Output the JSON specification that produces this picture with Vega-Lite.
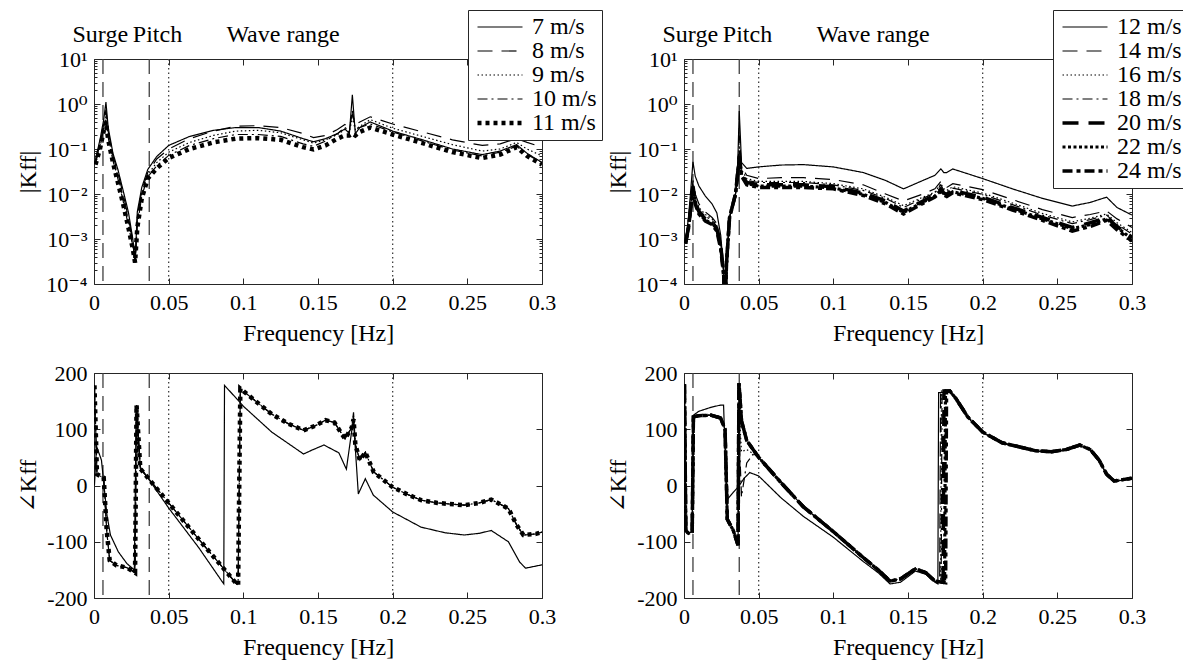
{
"$schema": "https://vega.github.io/schema/vega-lite/v6.json",
"padding": {"left": 15, "top": 9, "right": 2, "bottom": 2},
"background": "white",
"datasets": {
"tl": [
{"s":"7 m/s","f":0.001,"v":0.06},{"s":"7 m/s","f":0.004,"v":0.16},{"s":"7 m/s","f":0.0065,"v":0.45},{"s":"7 m/s","f":0.008,"v":1.1},{"s":"7 m/s","f":0.0095,"v":0.3},{"s":"7 m/s","f":0.0127,"v":0.08},{"s":"7 m/s","f":0.016,"v":0.035},{"s":"7 m/s","f":0.0195,"v":0.012},{"s":"7 m/s","f":0.023,"v":0.004},{"s":"7 m/s","f":0.026,"v":0.001},{"s":"7 m/s","f":0.0275,"v":0.0003},{"s":"7 m/s","f":0.029,"v":0.004},{"s":"7 m/s","f":0.032,"v":0.014},{"s":"7 m/s","f":0.036,"v":0.035},{"s":"7 m/s","f":0.042,"v":0.068},{"s":"7 m/s","f":0.05,"v":0.12},{"s":"7 m/s","f":0.064,"v":0.19},{"s":"7 m/s","f":0.08,"v":0.26},{"s":"7 m/s","f":0.095,"v":0.3},{"s":"7 m/s","f":0.11,"v":0.3},{"s":"7 m/s","f":0.125,"v":0.25},{"s":"7 m/s","f":0.14,"v":0.17},{"s":"7 m/s","f":0.147,"v":0.145},{"s":"7 m/s","f":0.155,"v":0.17},{"s":"7 m/s","f":0.163,"v":0.22},{"s":"7 m/s","f":0.168,"v":0.28},{"s":"7 m/s","f":0.171,"v":0.22},{"s":"7 m/s","f":0.173,"v":1.6},{"s":"7 m/s","f":0.175,"v":0.22},{"s":"7 m/s","f":0.178,"v":0.3},{"s":"7 m/s","f":0.185,"v":0.4},{"s":"7 m/s","f":0.2,"v":0.25},{"s":"7 m/s","f":0.22,"v":0.16},{"s":"7 m/s","f":0.24,"v":0.1},{"s":"7 m/s","f":0.26,"v":0.075},{"s":"7 m/s","f":0.272,"v":0.09},{"s":"7 m/s","f":0.283,"v":0.125},{"s":"7 m/s","f":0.29,"v":0.08},{"s":"7 m/s","f":0.3,"v":0.05},
{"s":"8 m/s","f":0.001,"v":0.05},{"s":"8 m/s","f":0.004,"v":0.13},{"s":"8 m/s","f":0.0065,"v":0.35},{"s":"8 m/s","f":0.008,"v":0.75},{"s":"8 m/s","f":0.0095,"v":0.25},{"s":"8 m/s","f":0.0127,"v":0.07},{"s":"8 m/s","f":0.016,"v":0.03},{"s":"8 m/s","f":0.0195,"v":0.01},{"s":"8 m/s","f":0.023,"v":0.003},{"s":"8 m/s","f":0.026,"v":0.0009},{"s":"8 m/s","f":0.0275,"v":0.0003},{"s":"8 m/s","f":0.029,"v":0.003},{"s":"8 m/s","f":0.032,"v":0.012},{"s":"8 m/s","f":0.036,"v":0.03},{"s":"8 m/s","f":0.042,"v":0.06},{"s":"8 m/s","f":0.05,"v":0.1},{"s":"8 m/s","f":0.064,"v":0.17},{"s":"8 m/s","f":0.08,"v":0.25},{"s":"8 m/s","f":0.095,"v":0.32},{"s":"8 m/s","f":0.11,"v":0.33},{"s":"8 m/s","f":0.125,"v":0.3},{"s":"8 m/s","f":0.14,"v":0.22},{"s":"8 m/s","f":0.147,"v":0.18},{"s":"8 m/s","f":0.155,"v":0.2},{"s":"8 m/s","f":0.163,"v":0.27},{"s":"8 m/s","f":0.168,"v":0.35},{"s":"8 m/s","f":0.171,"v":0.3},{"s":"8 m/s","f":0.173,"v":0.6},{"s":"8 m/s","f":0.175,"v":0.35},{"s":"8 m/s","f":0.178,"v":0.4},{"s":"8 m/s","f":0.185,"v":0.52},{"s":"8 m/s","f":0.2,"v":0.36},{"s":"8 m/s","f":0.22,"v":0.24},{"s":"8 m/s","f":0.24,"v":0.16},{"s":"8 m/s","f":0.26,"v":0.12},{"s":"8 m/s","f":0.272,"v":0.13},{"s":"8 m/s","f":0.283,"v":0.17},{"s":"8 m/s","f":0.29,"v":0.14},{"s":"8 m/s","f":0.3,"v":0.11},
{"s":"9 m/s","f":0.001,"v":0.055},{"s":"9 m/s","f":0.004,"v":0.12},{"s":"9 m/s","f":0.0065,"v":0.3},{"s":"9 m/s","f":0.008,"v":0.55},{"s":"9 m/s","f":0.0095,"v":0.2},{"s":"9 m/s","f":0.0127,"v":0.06},{"s":"9 m/s","f":0.016,"v":0.025},{"s":"9 m/s","f":0.0195,"v":0.008},{"s":"9 m/s","f":0.023,"v":0.0025},{"s":"9 m/s","f":0.026,"v":0.0008},{"s":"9 m/s","f":0.0275,"v":0.0003},{"s":"9 m/s","f":0.029,"v":0.0025},{"s":"9 m/s","f":0.032,"v":0.01},{"s":"9 m/s","f":0.036,"v":0.027},{"s":"9 m/s","f":0.042,"v":0.05},{"s":"9 m/s","f":0.05,"v":0.085},{"s":"9 m/s","f":0.064,"v":0.14},{"s":"9 m/s","f":0.08,"v":0.2},{"s":"9 m/s","f":0.095,"v":0.25},{"s":"9 m/s","f":0.11,"v":0.26},{"s":"9 m/s","f":0.125,"v":0.23},{"s":"9 m/s","f":0.14,"v":0.16},{"s":"9 m/s","f":0.147,"v":0.135},{"s":"9 m/s","f":0.155,"v":0.16},{"s":"9 m/s","f":0.163,"v":0.21},{"s":"9 m/s","f":0.168,"v":0.27},{"s":"9 m/s","f":0.171,"v":0.24},{"s":"9 m/s","f":0.173,"v":0.5},{"s":"9 m/s","f":0.175,"v":0.27},{"s":"9 m/s","f":0.178,"v":0.32},{"s":"9 m/s","f":0.185,"v":0.45},{"s":"9 m/s","f":0.2,"v":0.29},{"s":"9 m/s","f":0.22,"v":0.19},{"s":"9 m/s","f":0.24,"v":0.125},{"s":"9 m/s","f":0.26,"v":0.09},{"s":"9 m/s","f":0.272,"v":0.1},{"s":"9 m/s","f":0.283,"v":0.14},{"s":"9 m/s","f":0.29,"v":0.1},{"s":"9 m/s","f":0.3,"v":0.07},
{"s":"10 m/s","f":0.001,"v":0.05},{"s":"10 m/s","f":0.004,"v":0.11},{"s":"10 m/s","f":0.0065,"v":0.28},{"s":"10 m/s","f":0.008,"v":0.45},{"s":"10 m/s","f":0.0095,"v":0.18},{"s":"10 m/s","f":0.0127,"v":0.055},{"s":"10 m/s","f":0.016,"v":0.022},{"s":"10 m/s","f":0.0195,"v":0.007},{"s":"10 m/s","f":0.023,"v":0.002},{"s":"10 m/s","f":0.026,"v":0.0007},{"s":"10 m/s","f":0.0275,"v":0.0003},{"s":"10 m/s","f":0.029,"v":0.002},{"s":"10 m/s","f":0.032,"v":0.009},{"s":"10 m/s","f":0.036,"v":0.024},{"s":"10 m/s","f":0.042,"v":0.042},{"s":"10 m/s","f":0.05,"v":0.072},{"s":"10 m/s","f":0.064,"v":0.12},{"s":"10 m/s","f":0.08,"v":0.17},{"s":"10 m/s","f":0.095,"v":0.21},{"s":"10 m/s","f":0.11,"v":0.21},{"s":"10 m/s","f":0.125,"v":0.19},{"s":"10 m/s","f":0.14,"v":0.13},{"s":"10 m/s","f":0.147,"v":0.115},{"s":"10 m/s","f":0.155,"v":0.15},{"s":"10 m/s","f":0.163,"v":0.22},{"s":"10 m/s","f":0.168,"v":0.3},{"s":"10 m/s","f":0.171,"v":0.25},{"s":"10 m/s","f":0.173,"v":0.7},{"s":"10 m/s","f":0.175,"v":0.28},{"s":"10 m/s","f":0.178,"v":0.3},{"s":"10 m/s","f":0.185,"v":0.36},{"s":"10 m/s","f":0.2,"v":0.24},{"s":"10 m/s","f":0.22,"v":0.15},{"s":"10 m/s","f":0.24,"v":0.095},{"s":"10 m/s","f":0.26,"v":0.07},{"s":"10 m/s","f":0.272,"v":0.085},{"s":"10 m/s","f":0.283,"v":0.115},{"s":"10 m/s","f":0.29,"v":0.075},{"s":"10 m/s","f":0.3,"v":0.05},
{"s":"11 m/s","f":0.001,"v":0.045},{"s":"11 m/s","f":0.004,"v":0.1},{"s":"11 m/s","f":0.0065,"v":0.25},{"s":"11 m/s","f":0.008,"v":0.4},{"s":"11 m/s","f":0.0095,"v":0.16},{"s":"11 m/s","f":0.0127,"v":0.05},{"s":"11 m/s","f":0.016,"v":0.018},{"s":"11 m/s","f":0.0195,"v":0.006},{"s":"11 m/s","f":0.023,"v":0.0018},{"s":"11 m/s","f":0.026,"v":0.0006},{"s":"11 m/s","f":0.0275,"v":0.0003},{"s":"11 m/s","f":0.029,"v":0.0018},{"s":"11 m/s","f":0.032,"v":0.008},{"s":"11 m/s","f":0.036,"v":0.022},{"s":"11 m/s","f":0.042,"v":0.037},{"s":"11 m/s","f":0.05,"v":0.063},{"s":"11 m/s","f":0.064,"v":0.1},{"s":"11 m/s","f":0.08,"v":0.14},{"s":"11 m/s","f":0.095,"v":0.17},{"s":"11 m/s","f":0.11,"v":0.175},{"s":"11 m/s","f":0.125,"v":0.16},{"s":"11 m/s","f":0.14,"v":0.11},{"s":"11 m/s","f":0.147,"v":0.098},{"s":"11 m/s","f":0.155,"v":0.12},{"s":"11 m/s","f":0.163,"v":0.17},{"s":"11 m/s","f":0.168,"v":0.2},{"s":"11 m/s","f":0.171,"v":0.2},{"s":"11 m/s","f":0.173,"v":0.22},{"s":"11 m/s","f":0.175,"v":0.2},{"s":"11 m/s","f":0.178,"v":0.24},{"s":"11 m/s","f":0.185,"v":0.3},{"s":"11 m/s","f":0.2,"v":0.21},{"s":"11 m/s","f":0.22,"v":0.135},{"s":"11 m/s","f":0.24,"v":0.085},{"s":"11 m/s","f":0.26,"v":0.063},{"s":"11 m/s","f":0.272,"v":0.075},{"s":"11 m/s","f":0.283,"v":0.11},{"s":"11 m/s","f":0.29,"v":0.07},{"s":"11 m/s","f":0.3,"v":0.045}
],
"tr": [
{"s":"12 m/s","f":0.001,"v":0.0009},{"s":"12 m/s","f":0.003,"v":0.003},{"s":"12 m/s","f":0.0045,"v":0.012},{"s":"12 m/s","f":0.006,"v":0.052},{"s":"12 m/s","f":0.0075,"v":0.025},{"s":"12 m/s","f":0.01,"v":0.015},{"s":"12 m/s","f":0.0143,"v":0.009},{"s":"12 m/s","f":0.0188,"v":0.006},{"s":"12 m/s","f":0.022,"v":0.0038},{"s":"12 m/s","f":0.0246,"v":0.0012},{"s":"12 m/s","f":0.0265,"v":0.0002},{"s":"12 m/s","f":0.0275,"v":0.00003},{"s":"12 m/s","f":0.0285,"v":0.0003},{"s":"12 m/s","f":0.0305,"v":0.003},{"s":"12 m/s","f":0.0345,"v":0.01},{"s":"12 m/s","f":0.036,"v":0.05},{"s":"12 m/s","f":0.037,"v":0.7},{"s":"12 m/s","f":0.0385,"v":0.05},{"s":"12 m/s","f":0.042,"v":0.037},{"s":"12 m/s","f":0.05,"v":0.04},{"s":"12 m/s","f":0.065,"v":0.044},{"s":"12 m/s","f":0.08,"v":0.045},{"s":"12 m/s","f":0.1,"v":0.04},{"s":"12 m/s","f":0.12,"v":0.03},{"s":"12 m/s","f":0.135,"v":0.02},{"s":"12 m/s","f":0.147,"v":0.013},{"s":"12 m/s","f":0.16,"v":0.02},{"s":"12 m/s","f":0.168,"v":0.026},{"s":"12 m/s","f":0.172,"v":0.036},{"s":"12 m/s","f":0.174,"v":0.03},{"s":"12 m/s","f":0.176,"v":0.03},{"s":"12 m/s","f":0.18,"v":0.036},{"s":"12 m/s","f":0.2,"v":0.022},{"s":"12 m/s","f":0.22,"v":0.013},{"s":"12 m/s","f":0.24,"v":0.008},{"s":"12 m/s","f":0.26,"v":0.0054},{"s":"12 m/s","f":0.272,"v":0.0065},{"s":"12 m/s","f":0.283,"v":0.0085},{"s":"12 m/s","f":0.29,"v":0.005},{"s":"12 m/s","f":0.3,"v":0.0034},
{"s":"14 m/s","f":0.001,"v":0.0009},{"s":"14 m/s","f":0.003,"v":0.002},{"s":"14 m/s","f":0.0045,"v":0.006},{"s":"14 m/s","f":0.006,"v":0.02},{"s":"14 m/s","f":0.0075,"v":0.01},{"s":"14 m/s","f":0.01,"v":0.006},{"s":"14 m/s","f":0.0143,"v":0.004},{"s":"14 m/s","f":0.0188,"v":0.003},{"s":"14 m/s","f":0.022,"v":0.0022},{"s":"14 m/s","f":0.0246,"v":0.0009},{"s":"14 m/s","f":0.0265,"v":0.0002},{"s":"14 m/s","f":0.0275,"v":0.00003},{"s":"14 m/s","f":0.0285,"v":0.0003},{"s":"14 m/s","f":0.0305,"v":0.003},{"s":"14 m/s","f":0.0345,"v":0.01},{"s":"14 m/s","f":0.036,"v":0.03},{"s":"14 m/s","f":0.037,"v":0.2},{"s":"14 m/s","f":0.0385,"v":0.04},{"s":"14 m/s","f":0.042,"v":0.026},{"s":"14 m/s","f":0.05,"v":0.022},{"s":"14 m/s","f":0.065,"v":0.023},{"s":"14 m/s","f":0.08,"v":0.023},{"s":"14 m/s","f":0.1,"v":0.021},{"s":"14 m/s","f":0.12,"v":0.016},{"s":"14 m/s","f":0.135,"v":0.01},{"s":"14 m/s","f":0.147,"v":0.007},{"s":"14 m/s","f":0.16,"v":0.01},{"s":"14 m/s","f":0.168,"v":0.013},{"s":"14 m/s","f":0.172,"v":0.019},{"s":"14 m/s","f":0.174,"v":0.015},{"s":"14 m/s","f":0.176,"v":0.014},{"s":"14 m/s","f":0.18,"v":0.017},{"s":"14 m/s","f":0.2,"v":0.0125},{"s":"14 m/s","f":0.22,"v":0.0075},{"s":"14 m/s","f":0.24,"v":0.0045},{"s":"14 m/s","f":0.26,"v":0.003},{"s":"14 m/s","f":0.272,"v":0.0035},{"s":"14 m/s","f":0.283,"v":0.0042},{"s":"14 m/s","f":0.29,"v":0.0028},{"s":"14 m/s","f":0.3,"v":0.0018},
{"s":"16 m/s","f":0.001,"v":0.0009},{"s":"16 m/s","f":0.003,"v":0.002},{"s":"16 m/s","f":0.0045,"v":0.006},{"s":"16 m/s","f":0.006,"v":0.017},{"s":"16 m/s","f":0.0075,"v":0.008},{"s":"16 m/s","f":0.01,"v":0.005},{"s":"16 m/s","f":0.0143,"v":0.0035},{"s":"16 m/s","f":0.0188,"v":0.0028},{"s":"16 m/s","f":0.022,"v":0.002},{"s":"16 m/s","f":0.0246,"v":0.0008},{"s":"16 m/s","f":0.0265,"v":0.0002},{"s":"16 m/s","f":0.0275,"v":0.00003},{"s":"16 m/s","f":0.0285,"v":0.0003},{"s":"16 m/s","f":0.0305,"v":0.003},{"s":"16 m/s","f":0.0345,"v":0.01},{"s":"16 m/s","f":0.036,"v":0.03},{"s":"16 m/s","f":0.037,"v":0.12},{"s":"16 m/s","f":0.0385,"v":0.035},{"s":"16 m/s","f":0.042,"v":0.022},{"s":"16 m/s","f":0.05,"v":0.019},{"s":"16 m/s","f":0.065,"v":0.019},{"s":"16 m/s","f":0.08,"v":0.019},{"s":"16 m/s","f":0.1,"v":0.017},{"s":"16 m/s","f":0.12,"v":0.013},{"s":"16 m/s","f":0.135,"v":0.0085},{"s":"16 m/s","f":0.147,"v":0.0055},{"s":"16 m/s","f":0.16,"v":0.0085},{"s":"16 m/s","f":0.168,"v":0.011},{"s":"16 m/s","f":0.172,"v":0.017},{"s":"16 m/s","f":0.174,"v":0.013},{"s":"16 m/s","f":0.176,"v":0.012},{"s":"16 m/s","f":0.18,"v":0.0145},{"s":"16 m/s","f":0.2,"v":0.0105},{"s":"16 m/s","f":0.22,"v":0.0063},{"s":"16 m/s","f":0.24,"v":0.0037},{"s":"16 m/s","f":0.26,"v":0.0024},{"s":"16 m/s","f":0.272,"v":0.0029},{"s":"16 m/s","f":0.283,"v":0.0036},{"s":"16 m/s","f":0.29,"v":0.0023},{"s":"16 m/s","f":0.3,"v":0.0014},
{"s":"18 m/s","f":0.001,"v":0.0009},{"s":"18 m/s","f":0.003,"v":0.002},{"s":"18 m/s","f":0.0045,"v":0.0055},{"s":"18 m/s","f":0.006,"v":0.016},{"s":"18 m/s","f":0.0075,"v":0.0075},{"s":"18 m/s","f":0.01,"v":0.0045},{"s":"18 m/s","f":0.0143,"v":0.0032},{"s":"18 m/s","f":0.0188,"v":0.0026},{"s":"18 m/s","f":0.022,"v":0.0019},{"s":"18 m/s","f":0.0246,"v":0.0008},{"s":"18 m/s","f":0.0265,"v":0.0002},{"s":"18 m/s","f":0.0275,"v":0.00003},{"s":"18 m/s","f":0.0285,"v":0.0003},{"s":"18 m/s","f":0.0305,"v":0.003},{"s":"18 m/s","f":0.0345,"v":0.01},{"s":"18 m/s","f":0.036,"v":0.03},{"s":"18 m/s","f":0.037,"v":0.09},{"s":"18 m/s","f":0.0385,"v":0.03},{"s":"18 m/s","f":0.042,"v":0.02},{"s":"18 m/s","f":0.05,"v":0.018},{"s":"18 m/s","f":0.065,"v":0.018},{"s":"18 m/s","f":0.08,"v":0.018},{"s":"18 m/s","f":0.1,"v":0.016},{"s":"18 m/s","f":0.12,"v":0.012},{"s":"18 m/s","f":0.135,"v":0.008},{"s":"18 m/s","f":0.147,"v":0.005},{"s":"18 m/s","f":0.16,"v":0.008},{"s":"18 m/s","f":0.168,"v":0.0105},{"s":"18 m/s","f":0.172,"v":0.016},{"s":"18 m/s","f":0.174,"v":0.012},{"s":"18 m/s","f":0.176,"v":0.011},{"s":"18 m/s","f":0.18,"v":0.0135},{"s":"18 m/s","f":0.2,"v":0.0098},{"s":"18 m/s","f":0.22,"v":0.0058},{"s":"18 m/s","f":0.24,"v":0.0034},{"s":"18 m/s","f":0.26,"v":0.0022},{"s":"18 m/s","f":0.272,"v":0.0027},{"s":"18 m/s","f":0.283,"v":0.0034},{"s":"18 m/s","f":0.29,"v":0.0021},{"s":"18 m/s","f":0.3,"v":0.0013},
{"s":"20 m/s","f":0.001,"v":0.0008},{"s":"20 m/s","f":0.003,"v":0.0018},{"s":"20 m/s","f":0.0045,"v":0.005},{"s":"20 m/s","f":0.006,"v":0.015},{"s":"20 m/s","f":0.0075,"v":0.007},{"s":"20 m/s","f":0.01,"v":0.004},{"s":"20 m/s","f":0.0143,"v":0.0028},{"s":"20 m/s","f":0.0188,"v":0.0023},{"s":"20 m/s","f":0.022,"v":0.0017},{"s":"20 m/s","f":0.0246,"v":0.0007},{"s":"20 m/s","f":0.0265,"v":0.00018},{"s":"20 m/s","f":0.0275,"v":0.00003},{"s":"20 m/s","f":0.0285,"v":0.0003},{"s":"20 m/s","f":0.0305,"v":0.003},{"s":"20 m/s","f":0.0345,"v":0.01},{"s":"20 m/s","f":0.036,"v":0.03},{"s":"20 m/s","f":0.037,"v":0.07},{"s":"20 m/s","f":0.0385,"v":0.028},{"s":"20 m/s","f":0.042,"v":0.018},{"s":"20 m/s","f":0.05,"v":0.016},{"s":"20 m/s","f":0.065,"v":0.016},{"s":"20 m/s","f":0.08,"v":0.016},{"s":"20 m/s","f":0.1,"v":0.0145},{"s":"20 m/s","f":0.12,"v":0.0105},{"s":"20 m/s","f":0.135,"v":0.007},{"s":"20 m/s","f":0.147,"v":0.0042},{"s":"20 m/s","f":0.16,"v":0.007},{"s":"20 m/s","f":0.168,"v":0.0095},{"s":"20 m/s","f":0.172,"v":0.013},{"s":"20 m/s","f":0.174,"v":0.0105},{"s":"20 m/s","f":0.176,"v":0.0098},{"s":"20 m/s","f":0.18,"v":0.012},{"s":"20 m/s","f":0.2,"v":0.0085},{"s":"20 m/s","f":0.22,"v":0.005},{"s":"20 m/s","f":0.24,"v":0.003},{"s":"20 m/s","f":0.26,"v":0.0018},{"s":"20 m/s","f":0.272,"v":0.0023},{"s":"20 m/s","f":0.283,"v":0.003},{"s":"20 m/s","f":0.29,"v":0.0019},{"s":"20 m/s","f":0.3,"v":0.0011},
{"s":"22 m/s","f":0.001,"v":0.0008},{"s":"22 m/s","f":0.003,"v":0.0018},{"s":"22 m/s","f":0.0045,"v":0.005},{"s":"22 m/s","f":0.006,"v":0.014},{"s":"22 m/s","f":0.0075,"v":0.0065},{"s":"22 m/s","f":0.01,"v":0.0038},{"s":"22 m/s","f":0.0143,"v":0.0026},{"s":"22 m/s","f":0.0188,"v":0.0022},{"s":"22 m/s","f":0.022,"v":0.0016},{"s":"22 m/s","f":0.0246,"v":0.0007},{"s":"22 m/s","f":0.0265,"v":0.00018},{"s":"22 m/s","f":0.0275,"v":0.00003},{"s":"22 m/s","f":0.0285,"v":0.0003},{"s":"22 m/s","f":0.0305,"v":0.003},{"s":"22 m/s","f":0.0345,"v":0.01},{"s":"22 m/s","f":0.036,"v":0.03},{"s":"22 m/s","f":0.037,"v":0.065},{"s":"22 m/s","f":0.0385,"v":0.026},{"s":"22 m/s","f":0.042,"v":0.017},{"s":"22 m/s","f":0.05,"v":0.015},{"s":"22 m/s","f":0.065,"v":0.015},{"s":"22 m/s","f":0.08,"v":0.015},{"s":"22 m/s","f":0.1,"v":0.0137},{"s":"22 m/s","f":0.12,"v":0.0098},{"s":"22 m/s","f":0.135,"v":0.0065},{"s":"22 m/s","f":0.147,"v":0.0039},{"s":"22 m/s","f":0.16,"v":0.0066},{"s":"22 m/s","f":0.168,"v":0.009},{"s":"22 m/s","f":0.172,"v":0.012},{"s":"22 m/s","f":0.174,"v":0.01},{"s":"22 m/s","f":0.176,"v":0.0092},{"s":"22 m/s","f":0.18,"v":0.0112},{"s":"22 m/s","f":0.2,"v":0.008},{"s":"22 m/s","f":0.22,"v":0.0047},{"s":"22 m/s","f":0.24,"v":0.0028},{"s":"22 m/s","f":0.26,"v":0.0017},{"s":"22 m/s","f":0.272,"v":0.0021},{"s":"22 m/s","f":0.283,"v":0.0028},{"s":"22 m/s","f":0.29,"v":0.0018},{"s":"22 m/s","f":0.3,"v":0.001},
{"s":"24 m/s","f":0.001,"v":0.0008},{"s":"24 m/s","f":0.003,"v":0.0017},{"s":"24 m/s","f":0.0045,"v":0.0048},{"s":"24 m/s","f":0.006,"v":0.013},{"s":"24 m/s","f":0.0075,"v":0.006},{"s":"24 m/s","f":0.01,"v":0.0036},{"s":"24 m/s","f":0.0143,"v":0.0025},{"s":"24 m/s","f":0.0188,"v":0.0021},{"s":"24 m/s","f":0.022,"v":0.0015},{"s":"24 m/s","f":0.0246,"v":0.0006},{"s":"24 m/s","f":0.0265,"v":0.00016},{"s":"24 m/s","f":0.0275,"v":0.00003},{"s":"24 m/s","f":0.0285,"v":0.0003},{"s":"24 m/s","f":0.0305,"v":0.003},{"s":"24 m/s","f":0.0345,"v":0.01},{"s":"24 m/s","f":0.036,"v":0.03},{"s":"24 m/s","f":0.037,"v":0.06},{"s":"24 m/s","f":0.0385,"v":0.025},{"s":"24 m/s","f":0.042,"v":0.016},{"s":"24 m/s","f":0.05,"v":0.014},{"s":"24 m/s","f":0.065,"v":0.014},{"s":"24 m/s","f":0.08,"v":0.014},{"s":"24 m/s","f":0.1,"v":0.013},{"s":"24 m/s","f":0.12,"v":0.0093},{"s":"24 m/s","f":0.135,"v":0.006},{"s":"24 m/s","f":0.147,"v":0.0036},{"s":"24 m/s","f":0.16,"v":0.0062},{"s":"24 m/s","f":0.168,"v":0.0085},{"s":"24 m/s","f":0.172,"v":0.0115},{"s":"24 m/s","f":0.174,"v":0.0095},{"s":"24 m/s","f":0.176,"v":0.0088},{"s":"24 m/s","f":0.18,"v":0.0106},{"s":"24 m/s","f":0.2,"v":0.0075},{"s":"24 m/s","f":0.22,"v":0.0044},{"s":"24 m/s","f":0.24,"v":0.0026},{"s":"24 m/s","f":0.26,"v":0.0015},{"s":"24 m/s","f":0.272,"v":0.0019},{"s":"24 m/s","f":0.283,"v":0.0026},{"s":"24 m/s","f":0.29,"v":0.0016},{"s":"24 m/s","f":0.3,"v":0.0009}
],
"bl": [
{"s":"7 m/s","f":0.0003,"v":0},{"s":"7 m/s","f":0.0017,"v":70},{"s":"7 m/s","f":0.005,"v":45},{"s":"7 m/s","f":0.0087,"v":-53},{"s":"7 m/s","f":0.011,"v":-88},{"s":"7 m/s","f":0.0163,"v":-118},{"s":"7 m/s","f":0.0221,"v":-139},{"s":"7 m/s","f":0.027,"v":-150},{"s":"7 m/s","f":0.0283,"v":140},{"s":"7 m/s","f":0.031,"v":33},{"s":"7 m/s","f":0.05,"v":-40},{"s":"7 m/s","f":0.07,"v":-110},{"s":"7 m/s","f":0.0869,"v":-175},{"s":"7 m/s","f":0.0874,"v":178},{"s":"7 m/s","f":0.1004,"v":140},{"s":"7 m/s","f":0.119,"v":95},{"s":"7 m/s","f":0.1403,"v":56},{"s":"7 m/s","f":0.146,"v":63},{"s":"7 m/s","f":0.154,"v":72},{"s":"7 m/s","f":0.164,"v":58},{"s":"7 m/s","f":0.169,"v":29},{"s":"7 m/s","f":0.1737,"v":118},{"s":"7 m/s","f":0.177,"v":-15},{"s":"7 m/s","f":0.1817,"v":12},{"s":"7 m/s","f":0.187,"v":-17},{"s":"7 m/s","f":0.2,"v":-47},{"s":"7 m/s","f":0.219,"v":-74},{"s":"7 m/s","f":0.235,"v":-84},{"s":"7 m/s","f":0.248,"v":-88},{"s":"7 m/s","f":0.258,"v":-85},{"s":"7 m/s","f":0.266,"v":-80},{"s":"7 m/s","f":0.2775,"v":-100},{"s":"7 m/s","f":0.285,"v":-136},{"s":"7 m/s","f":0.289,"v":-147},{"s":"7 m/s","f":0.3,"v":-141},
{"s":"8 m/s","f":0.0003,"v":178},{"s":"8 m/s","f":0.0012,"v":95},{"s":"8 m/s","f":0.002,"v":20},{"s":"8 m/s","f":0.004,"v":17},{"s":"8 m/s","f":0.0065,"v":14},{"s":"8 m/s","f":0.0085,"v":-80},{"s":"8 m/s","f":0.0105,"v":-133},{"s":"8 m/s","f":0.015,"v":-142},{"s":"8 m/s","f":0.022,"v":-146},{"s":"8 m/s","f":0.0275,"v":-155},{"s":"8 m/s","f":0.0285,"v":143},{"s":"8 m/s","f":0.031,"v":30},{"s":"8 m/s","f":0.05,"v":-31},{"s":"8 m/s","f":0.07,"v":-95},{"s":"8 m/s","f":0.0955,"v":-175},{"s":"8 m/s","f":0.0965,"v":-177},{"s":"8 m/s","f":0.098,"v":172},{"s":"8 m/s","f":0.119,"v":127},{"s":"8 m/s","f":0.13,"v":110},{"s":"8 m/s","f":0.1403,"v":98},{"s":"8 m/s","f":0.148,"v":106},{"s":"8 m/s","f":0.155,"v":116},{"s":"8 m/s","f":0.161,"v":112},{"s":"8 m/s","f":0.1681,"v":83},{"s":"8 m/s","f":0.1726,"v":103},{"s":"8 m/s","f":0.1738,"v":122},{"s":"8 m/s","f":0.175,"v":73},{"s":"8 m/s","f":0.178,"v":45},{"s":"8 m/s","f":0.1817,"v":59},{"s":"8 m/s","f":0.1873,"v":24},{"s":"8 m/s","f":0.2,"v":-3},{"s":"8 m/s","f":0.21,"v":-16},{"s":"8 m/s","f":0.219,"v":-26},{"s":"8 m/s","f":0.23,"v":-31},{"s":"8 m/s","f":0.248,"v":-35},{"s":"8 m/s","f":0.258,"v":-31},{"s":"8 m/s","f":0.266,"v":-25},{"s":"8 m/s","f":0.2775,"v":-41},{"s":"8 m/s","f":0.283,"v":-70},{"s":"8 m/s","f":0.2875,"v":-88},{"s":"8 m/s","f":0.296,"v":-86},{"s":"8 m/s","f":0.3,"v":-83},
{"s":"9 m/s","f":0.0003,"v":178},{"s":"9 m/s","f":0.0012,"v":95},{"s":"9 m/s","f":0.002,"v":20},{"s":"9 m/s","f":0.004,"v":17},{"s":"9 m/s","f":0.0065,"v":14},{"s":"9 m/s","f":0.0085,"v":-80},{"s":"9 m/s","f":0.0105,"v":-133},{"s":"9 m/s","f":0.015,"v":-142},{"s":"9 m/s","f":0.022,"v":-146},{"s":"9 m/s","f":0.0275,"v":-155},{"s":"9 m/s","f":0.0285,"v":143},{"s":"9 m/s","f":0.031,"v":30},{"s":"9 m/s","f":0.05,"v":-31},{"s":"9 m/s","f":0.07,"v":-95},{"s":"9 m/s","f":0.0955,"v":-175},{"s":"9 m/s","f":0.0965,"v":-177},{"s":"9 m/s","f":0.098,"v":172},{"s":"9 m/s","f":0.119,"v":127},{"s":"9 m/s","f":0.13,"v":110},{"s":"9 m/s","f":0.1403,"v":98},{"s":"9 m/s","f":0.148,"v":106},{"s":"9 m/s","f":0.155,"v":116},{"s":"9 m/s","f":0.161,"v":112},{"s":"9 m/s","f":0.1681,"v":83},{"s":"9 m/s","f":0.1726,"v":103},{"s":"9 m/s","f":0.1738,"v":124},{"s":"9 m/s","f":0.175,"v":73},{"s":"9 m/s","f":0.178,"v":45},{"s":"9 m/s","f":0.1817,"v":59},{"s":"9 m/s","f":0.1873,"v":24},{"s":"9 m/s","f":0.2,"v":-3},{"s":"9 m/s","f":0.21,"v":-16},{"s":"9 m/s","f":0.219,"v":-26},{"s":"9 m/s","f":0.23,"v":-31},{"s":"9 m/s","f":0.248,"v":-35},{"s":"9 m/s","f":0.258,"v":-31},{"s":"9 m/s","f":0.266,"v":-25},{"s":"9 m/s","f":0.2775,"v":-41},{"s":"9 m/s","f":0.283,"v":-70},{"s":"9 m/s","f":0.2875,"v":-88},{"s":"9 m/s","f":0.296,"v":-86},{"s":"9 m/s","f":0.3,"v":-83},
{"s":"10 m/s","f":0.0003,"v":178},{"s":"10 m/s","f":0.0012,"v":95},{"s":"10 m/s","f":0.002,"v":20},{"s":"10 m/s","f":0.004,"v":17},{"s":"10 m/s","f":0.0065,"v":14},{"s":"10 m/s","f":0.0085,"v":-80},{"s":"10 m/s","f":0.0105,"v":-133},{"s":"10 m/s","f":0.015,"v":-142},{"s":"10 m/s","f":0.022,"v":-146},{"s":"10 m/s","f":0.0275,"v":-155},{"s":"10 m/s","f":0.0285,"v":143},{"s":"10 m/s","f":0.031,"v":30},{"s":"10 m/s","f":0.05,"v":-31},{"s":"10 m/s","f":0.07,"v":-95},{"s":"10 m/s","f":0.0955,"v":-175},{"s":"10 m/s","f":0.0965,"v":-177},{"s":"10 m/s","f":0.098,"v":172},{"s":"10 m/s","f":0.119,"v":127},{"s":"10 m/s","f":0.13,"v":110},{"s":"10 m/s","f":0.1403,"v":98},{"s":"10 m/s","f":0.148,"v":106},{"s":"10 m/s","f":0.155,"v":116},{"s":"10 m/s","f":0.161,"v":112},{"s":"10 m/s","f":0.1681,"v":83},{"s":"10 m/s","f":0.1726,"v":103},{"s":"10 m/s","f":0.1738,"v":130},{"s":"10 m/s","f":0.175,"v":73},{"s":"10 m/s","f":0.178,"v":45},{"s":"10 m/s","f":0.1817,"v":59},{"s":"10 m/s","f":0.1873,"v":24},{"s":"10 m/s","f":0.2,"v":-3},{"s":"10 m/s","f":0.21,"v":-16},{"s":"10 m/s","f":0.219,"v":-26},{"s":"10 m/s","f":0.23,"v":-31},{"s":"10 m/s","f":0.248,"v":-35},{"s":"10 m/s","f":0.258,"v":-31},{"s":"10 m/s","f":0.266,"v":-25},{"s":"10 m/s","f":0.2775,"v":-41},{"s":"10 m/s","f":0.283,"v":-70},{"s":"10 m/s","f":0.2875,"v":-88},{"s":"10 m/s","f":0.296,"v":-86},{"s":"10 m/s","f":0.3,"v":-83},
{"s":"11 m/s","f":0.0003,"v":178},{"s":"11 m/s","f":0.0012,"v":95},{"s":"11 m/s","f":0.002,"v":20},{"s":"11 m/s","f":0.004,"v":17},{"s":"11 m/s","f":0.0065,"v":14},{"s":"11 m/s","f":0.0085,"v":-80},{"s":"11 m/s","f":0.0105,"v":-133},{"s":"11 m/s","f":0.015,"v":-142},{"s":"11 m/s","f":0.022,"v":-146},{"s":"11 m/s","f":0.0275,"v":-155},{"s":"11 m/s","f":0.0285,"v":143},{"s":"11 m/s","f":0.031,"v":30},{"s":"11 m/s","f":0.05,"v":-31},{"s":"11 m/s","f":0.07,"v":-95},{"s":"11 m/s","f":0.0955,"v":-175},{"s":"11 m/s","f":0.0965,"v":-177},{"s":"11 m/s","f":0.098,"v":172},{"s":"11 m/s","f":0.119,"v":127},{"s":"11 m/s","f":0.13,"v":110},{"s":"11 m/s","f":0.1403,"v":98},{"s":"11 m/s","f":0.148,"v":106},{"s":"11 m/s","f":0.155,"v":116},{"s":"11 m/s","f":0.161,"v":112},{"s":"11 m/s","f":0.1681,"v":83},{"s":"11 m/s","f":0.1726,"v":103},{"s":"11 m/s","f":0.1738,"v":118},{"s":"11 m/s","f":0.175,"v":73},{"s":"11 m/s","f":0.178,"v":45},{"s":"11 m/s","f":0.1817,"v":59},{"s":"11 m/s","f":0.1873,"v":24},{"s":"11 m/s","f":0.2,"v":-3},{"s":"11 m/s","f":0.21,"v":-16},{"s":"11 m/s","f":0.219,"v":-26},{"s":"11 m/s","f":0.23,"v":-31},{"s":"11 m/s","f":0.248,"v":-35},{"s":"11 m/s","f":0.258,"v":-31},{"s":"11 m/s","f":0.266,"v":-25},{"s":"11 m/s","f":0.2775,"v":-41},{"s":"11 m/s","f":0.283,"v":-70},{"s":"11 m/s","f":0.2875,"v":-88},{"s":"11 m/s","f":0.296,"v":-86},{"s":"11 m/s","f":0.3,"v":-83}
],
"br": [
{"s":"12 m/s","f":0.0003,"v":180},{"s":"12 m/s","f":0.0012,"v":-80},{"s":"12 m/s","f":0.003,"v":-85},{"s":"12 m/s","f":0.0055,"v":-82},{"s":"12 m/s","f":0.0063,"v":125},{"s":"12 m/s","f":0.01,"v":132},{"s":"12 m/s","f":0.018,"v":139},{"s":"12 m/s","f":0.0245,"v":143},{"s":"12 m/s","f":0.0265,"v":143},{"s":"12 m/s","f":0.028,"v":20},{"s":"12 m/s","f":0.029,"v":-25},{"s":"12 m/s","f":0.033,"v":-12},{"s":"12 m/s","f":0.0365,"v":-2},{"s":"12 m/s","f":0.04,"v":12},{"s":"12 m/s","f":0.044,"v":23},{"s":"12 m/s","f":0.05,"v":17},{"s":"12 m/s","f":0.065,"v":-22},{"s":"12 m/s","f":0.08,"v":-55},{"s":"12 m/s","f":0.1,"v":-92},{"s":"12 m/s","f":0.12,"v":-135},{"s":"12 m/s","f":0.13,"v":-155},{"s":"12 m/s","f":0.138,"v":-175},{"s":"12 m/s","f":0.145,"v":-172},{"s":"12 m/s","f":0.155,"v":-152},{"s":"12 m/s","f":0.162,"v":-158},{"s":"12 m/s","f":0.168,"v":-172},{"s":"12 m/s","f":0.17,"v":-175},{"s":"12 m/s","f":0.1705,"v":165},{"s":"12 m/s","f":0.178,"v":166},{"s":"12 m/s","f":0.182,"v":154},{"s":"12 m/s","f":0.19,"v":121},{"s":"12 m/s","f":0.2,"v":94},{"s":"12 m/s","f":0.213,"v":75},{"s":"12 m/s","f":0.235,"v":61},{"s":"12 m/s","f":0.246,"v":59},{"s":"12 m/s","f":0.256,"v":63},{"s":"12 m/s","f":0.265,"v":71},{"s":"12 m/s","f":0.272,"v":63},{"s":"12 m/s","f":0.278,"v":44},{"s":"12 m/s","f":0.283,"v":19},{"s":"12 m/s","f":0.288,"v":7},{"s":"12 m/s","f":0.3,"v":12},
{"s":"14 m/s","f":0.0003,"v":180},{"s":"14 m/s","f":0.0012,"v":-80},{"s":"14 m/s","f":0.003,"v":-85},{"s":"14 m/s","f":0.0055,"v":-82},{"s":"14 m/s","f":0.0063,"v":123},{"s":"14 m/s","f":0.01,"v":126},{"s":"14 m/s","f":0.018,"v":127},{"s":"14 m/s","f":0.0245,"v":122},{"s":"14 m/s","f":0.0275,"v":100},{"s":"14 m/s","f":0.029,"v":-60},{"s":"14 m/s","f":0.033,"v":-78},{"s":"14 m/s","f":0.0362,"v":-104},{"s":"14 m/s","f":0.0368,"v":182},{"s":"14 m/s","f":0.0385,"v":115},{"s":"14 m/s","f":0.042,"v":80},{"s":"14 m/s","f":0.05,"v":50},{"s":"14 m/s","f":0.065,"v":5},{"s":"14 m/s","f":0.08,"v":-38},{"s":"14 m/s","f":0.1,"v":-82},{"s":"14 m/s","f":0.12,"v":-128},{"s":"14 m/s","f":0.13,"v":-150},{"s":"14 m/s","f":0.138,"v":-170},{"s":"14 m/s","f":0.145,"v":-166},{"s":"14 m/s","f":0.155,"v":-148},{"s":"14 m/s","f":0.162,"v":-155},{"s":"14 m/s","f":0.168,"v":-170},{"s":"14 m/s","f":0.1712,"v":-173},{"s":"14 m/s","f":0.1718,"v":168},{"s":"14 m/s","f":0.178,"v":168},{"s":"14 m/s","f":0.182,"v":155},{"s":"14 m/s","f":0.19,"v":122},{"s":"14 m/s","f":0.2,"v":95},{"s":"14 m/s","f":0.213,"v":76},{"s":"14 m/s","f":0.235,"v":62},{"s":"14 m/s","f":0.246,"v":60},{"s":"14 m/s","f":0.256,"v":64},{"s":"14 m/s","f":0.265,"v":72},{"s":"14 m/s","f":0.272,"v":64},{"s":"14 m/s","f":0.278,"v":45},{"s":"14 m/s","f":0.283,"v":20},{"s":"14 m/s","f":0.288,"v":8},{"s":"14 m/s","f":0.3,"v":13},
{"s":"16 m/s","f":0.0003,"v":180},{"s":"16 m/s","f":0.0012,"v":-80},{"s":"16 m/s","f":0.003,"v":-85},{"s":"16 m/s","f":0.0055,"v":-82},{"s":"16 m/s","f":0.0063,"v":122},{"s":"16 m/s","f":0.01,"v":125},{"s":"16 m/s","f":0.018,"v":126},{"s":"16 m/s","f":0.0245,"v":121},{"s":"16 m/s","f":0.0275,"v":100},{"s":"16 m/s","f":0.029,"v":-60},{"s":"16 m/s","f":0.033,"v":-79},{"s":"16 m/s","f":0.0362,"v":-105},{"s":"16 m/s","f":0.0368,"v":140},{"s":"16 m/s","f":0.0385,"v":60},{"s":"16 m/s","f":0.042,"v":64},{"s":"16 m/s","f":0.05,"v":50},{"s":"16 m/s","f":0.065,"v":5},{"s":"16 m/s","f":0.08,"v":-38},{"s":"16 m/s","f":0.1,"v":-82},{"s":"16 m/s","f":0.12,"v":-128},{"s":"16 m/s","f":0.13,"v":-150},{"s":"16 m/s","f":0.138,"v":-170},{"s":"16 m/s","f":0.145,"v":-166},{"s":"16 m/s","f":0.155,"v":-148},{"s":"16 m/s","f":0.162,"v":-155},{"s":"16 m/s","f":0.168,"v":-170},{"s":"16 m/s","f":0.1718,"v":-173},{"s":"16 m/s","f":0.1724,"v":168},{"s":"16 m/s","f":0.178,"v":168},{"s":"16 m/s","f":0.182,"v":155},{"s":"16 m/s","f":0.19,"v":122},{"s":"16 m/s","f":0.2,"v":95},{"s":"16 m/s","f":0.213,"v":76},{"s":"16 m/s","f":0.235,"v":62},{"s":"16 m/s","f":0.246,"v":60},{"s":"16 m/s","f":0.256,"v":64},{"s":"16 m/s","f":0.265,"v":72},{"s":"16 m/s","f":0.272,"v":64},{"s":"16 m/s","f":0.278,"v":45},{"s":"16 m/s","f":0.283,"v":20},{"s":"16 m/s","f":0.288,"v":8},{"s":"16 m/s","f":0.3,"v":13},
{"s":"18 m/s","f":0.0003,"v":180},{"s":"18 m/s","f":0.0012,"v":-80},{"s":"18 m/s","f":0.003,"v":-85},{"s":"18 m/s","f":0.0055,"v":-82},{"s":"18 m/s","f":0.0063,"v":122},{"s":"18 m/s","f":0.01,"v":124},{"s":"18 m/s","f":0.018,"v":125},{"s":"18 m/s","f":0.0245,"v":120},{"s":"18 m/s","f":0.0275,"v":100},{"s":"18 m/s","f":0.029,"v":-60},{"s":"18 m/s","f":0.033,"v":-80},{"s":"18 m/s","f":0.0362,"v":-106},{"s":"18 m/s","f":0.0368,"v":100},{"s":"18 m/s","f":0.0385,"v":-20},{"s":"18 m/s","f":0.042,"v":40},{"s":"18 m/s","f":0.046,"v":55},{"s":"18 m/s","f":0.05,"v":50},{"s":"18 m/s","f":0.065,"v":5},{"s":"18 m/s","f":0.08,"v":-38},{"s":"18 m/s","f":0.1,"v":-82},{"s":"18 m/s","f":0.12,"v":-128},{"s":"18 m/s","f":0.13,"v":-150},{"s":"18 m/s","f":0.138,"v":-170},{"s":"18 m/s","f":0.145,"v":-166},{"s":"18 m/s","f":0.155,"v":-148},{"s":"18 m/s","f":0.162,"v":-155},{"s":"18 m/s","f":0.168,"v":-170},{"s":"18 m/s","f":0.1722,"v":-173},{"s":"18 m/s","f":0.1728,"v":168},{"s":"18 m/s","f":0.178,"v":168},{"s":"18 m/s","f":0.182,"v":155},{"s":"18 m/s","f":0.19,"v":122},{"s":"18 m/s","f":0.2,"v":95},{"s":"18 m/s","f":0.213,"v":76},{"s":"18 m/s","f":0.235,"v":62},{"s":"18 m/s","f":0.246,"v":60},{"s":"18 m/s","f":0.256,"v":64},{"s":"18 m/s","f":0.265,"v":72},{"s":"18 m/s","f":0.272,"v":64},{"s":"18 m/s","f":0.278,"v":45},{"s":"18 m/s","f":0.283,"v":20},{"s":"18 m/s","f":0.288,"v":8},{"s":"18 m/s","f":0.3,"v":13},
{"s":"20 m/s","f":0.0003,"v":180},{"s":"20 m/s","f":0.0012,"v":-80},{"s":"20 m/s","f":0.003,"v":-85},{"s":"20 m/s","f":0.0055,"v":-82},{"s":"20 m/s","f":0.0063,"v":122},{"s":"20 m/s","f":0.01,"v":124},{"s":"20 m/s","f":0.018,"v":125},{"s":"20 m/s","f":0.0245,"v":120},{"s":"20 m/s","f":0.0275,"v":100},{"s":"20 m/s","f":0.029,"v":-60},{"s":"20 m/s","f":0.033,"v":-80},{"s":"20 m/s","f":0.0362,"v":-106},{"s":"20 m/s","f":0.0368,"v":182},{"s":"20 m/s","f":0.0385,"v":115},{"s":"20 m/s","f":0.042,"v":80},{"s":"20 m/s","f":0.05,"v":50},{"s":"20 m/s","f":0.065,"v":5},{"s":"20 m/s","f":0.08,"v":-38},{"s":"20 m/s","f":0.1,"v":-82},{"s":"20 m/s","f":0.12,"v":-128},{"s":"20 m/s","f":0.13,"v":-150},{"s":"20 m/s","f":0.138,"v":-170},{"s":"20 m/s","f":0.145,"v":-166},{"s":"20 m/s","f":0.155,"v":-148},{"s":"20 m/s","f":0.162,"v":-155},{"s":"20 m/s","f":0.168,"v":-170},{"s":"20 m/s","f":0.1735,"v":-173},{"s":"20 m/s","f":0.1741,"v":168},{"s":"20 m/s","f":0.178,"v":168},{"s":"20 m/s","f":0.182,"v":155},{"s":"20 m/s","f":0.19,"v":122},{"s":"20 m/s","f":0.2,"v":95},{"s":"20 m/s","f":0.213,"v":76},{"s":"20 m/s","f":0.235,"v":62},{"s":"20 m/s","f":0.246,"v":60},{"s":"20 m/s","f":0.256,"v":64},{"s":"20 m/s","f":0.265,"v":72},{"s":"20 m/s","f":0.272,"v":64},{"s":"20 m/s","f":0.278,"v":45},{"s":"20 m/s","f":0.283,"v":20},{"s":"20 m/s","f":0.288,"v":8},{"s":"20 m/s","f":0.3,"v":13},
{"s":"22 m/s","f":0.0003,"v":180},{"s":"22 m/s","f":0.0012,"v":-80},{"s":"22 m/s","f":0.003,"v":-85},{"s":"22 m/s","f":0.0055,"v":-82},{"s":"22 m/s","f":0.0063,"v":122},{"s":"22 m/s","f":0.01,"v":124},{"s":"22 m/s","f":0.018,"v":125},{"s":"22 m/s","f":0.0245,"v":120},{"s":"22 m/s","f":0.0275,"v":100},{"s":"22 m/s","f":0.029,"v":-60},{"s":"22 m/s","f":0.033,"v":-80},{"s":"22 m/s","f":0.0362,"v":-106},{"s":"22 m/s","f":0.0368,"v":182},{"s":"22 m/s","f":0.0385,"v":115},{"s":"22 m/s","f":0.042,"v":80},{"s":"22 m/s","f":0.05,"v":50},{"s":"22 m/s","f":0.065,"v":5},{"s":"22 m/s","f":0.08,"v":-38},{"s":"22 m/s","f":0.1,"v":-82},{"s":"22 m/s","f":0.12,"v":-128},{"s":"22 m/s","f":0.13,"v":-150},{"s":"22 m/s","f":0.138,"v":-170},{"s":"22 m/s","f":0.145,"v":-166},{"s":"22 m/s","f":0.155,"v":-148},{"s":"22 m/s","f":0.162,"v":-155},{"s":"22 m/s","f":0.168,"v":-170},{"s":"22 m/s","f":0.1745,"v":-173},{"s":"22 m/s","f":0.1751,"v":168},{"s":"22 m/s","f":0.178,"v":168},{"s":"22 m/s","f":0.182,"v":155},{"s":"22 m/s","f":0.19,"v":122},{"s":"22 m/s","f":0.2,"v":95},{"s":"22 m/s","f":0.213,"v":76},{"s":"22 m/s","f":0.235,"v":62},{"s":"22 m/s","f":0.246,"v":60},{"s":"22 m/s","f":0.256,"v":64},{"s":"22 m/s","f":0.265,"v":72},{"s":"22 m/s","f":0.272,"v":64},{"s":"22 m/s","f":0.278,"v":45},{"s":"22 m/s","f":0.283,"v":20},{"s":"22 m/s","f":0.288,"v":8},{"s":"22 m/s","f":0.3,"v":13},
{"s":"24 m/s","f":0.0003,"v":180},{"s":"24 m/s","f":0.0012,"v":-80},{"s":"24 m/s","f":0.003,"v":-85},{"s":"24 m/s","f":0.0055,"v":-82},{"s":"24 m/s","f":0.0063,"v":122},{"s":"24 m/s","f":0.01,"v":124},{"s":"24 m/s","f":0.018,"v":125},{"s":"24 m/s","f":0.0245,"v":120},{"s":"24 m/s","f":0.0275,"v":100},{"s":"24 m/s","f":0.029,"v":-60},{"s":"24 m/s","f":0.033,"v":-80},{"s":"24 m/s","f":0.0362,"v":-106},{"s":"24 m/s","f":0.0368,"v":182},{"s":"24 m/s","f":0.0385,"v":115},{"s":"24 m/s","f":0.042,"v":80},{"s":"24 m/s","f":0.05,"v":50},{"s":"24 m/s","f":0.065,"v":5},{"s":"24 m/s","f":0.08,"v":-38},{"s":"24 m/s","f":0.1,"v":-82},{"s":"24 m/s","f":0.12,"v":-128},{"s":"24 m/s","f":0.13,"v":-150},{"s":"24 m/s","f":0.138,"v":-170},{"s":"24 m/s","f":0.145,"v":-166},{"s":"24 m/s","f":0.155,"v":-148},{"s":"24 m/s","f":0.162,"v":-155},{"s":"24 m/s","f":0.168,"v":-170},{"s":"24 m/s","f":0.1752,"v":-173},{"s":"24 m/s","f":0.1758,"v":168},{"s":"24 m/s","f":0.178,"v":168},{"s":"24 m/s","f":0.182,"v":155},{"s":"24 m/s","f":0.19,"v":122},{"s":"24 m/s","f":0.2,"v":95},{"s":"24 m/s","f":0.213,"v":76},{"s":"24 m/s","f":0.235,"v":62},{"s":"24 m/s","f":0.246,"v":60},{"s":"24 m/s","f":0.256,"v":64},{"s":"24 m/s","f":0.265,"v":72},{"s":"24 m/s","f":0.272,"v":64},{"s":"24 m/s","f":0.278,"v":45},{"s":"24 m/s","f":0.283,"v":20},{"s":"24 m/s","f":0.288,"v":8},{"s":"24 m/s","f":0.3,"v":13}
],
"modes": [{"f":0.006},{"f":0.037}],
"waves": [{"f":0.05},{"f":0.2}],
"notes": [{"f":0.0042,"v":35,"t":"Surge"},{"f":0.0425,"v":35,"t":"Pitch"},{"f":0.1266,"v":35,"t":"Wave range"}]
},
"columns": 2,
"spacing": {"row": 89, "column": 142},
"bounds": "flush",
"resolve": {"scale": {"x": "independent", "y": "independent", "strokeDash": "independent", "strokeWidth": "independent"}, "axis": {"x": "independent", "y": "independent"}, "legend": {"strokeDash": "independent", "strokeWidth": "independent"}},
"concat": [
{
 "width": 448, "height": 225,
 "resolve": {"axis": {"x": "independent", "y": "independent"}},
 "encoding": {"x": {"field": "f", "type": "quantitative", "scale": {"domain": [0, 0.3], "nice": false, "zero": false}, "axis": null}},
 "layer": [
  {"data": {"name": "modes"}, "mark": {"type": "rule", "strokeDash": [15, 8], "color": "#404040", "strokeWidth": 1.3},
   "encoding": {"x": {"field": "f", "type": "quantitative", "scale": {"domain": [0, 0.3], "nice": false, "zero": false}, "axis": {"orient": "top", "labels": false, "title": null, "values": [0, 0.05, 0.1, 0.15, 0.2, 0.25, 0.3]}}}},
  {"data": {"name": "waves"}, "mark": {"type": "rule", "strokeDash": [1.5, 3], "color": "#404040", "strokeWidth": 1.3}},
  {"data": {"name": "notes"}, "mark": {"type": "text", "fontSize": 24, "color": "black", "clip": false},
   "encoding": {"y": {"field": "v", "type": "quantitative", "scale": {"type": "log", "domain": [0.0001, 10], "nice": false}, "axis": {"orient": "right", "labels": false, "title": null, "values": [0.0001,0.0002,0.0003,0.0004,0.0005,0.0006,0.0007,0.0008,0.0009,0.001,0.002,0.003,0.004,0.005,0.006,0.007,0.008,0.009,0.01,0.02,0.03,0.04,0.05,0.06,0.07,0.08,0.09,0.1,0.2,0.3,0.4,0.5,0.6,0.7,0.8,0.9,1,2,3,4,5,6,7,8,9,10], "tickSize": {"condition": {"test": "indexof([0.0001,0.001,0.01,0.1,1,10], datum.value) >= 0", "value": -6}, "value": -3}}}, "text": {"field": "t"}}},
  {"data": {"name": "tl"}, "mark": {"type": "line", "clip": true, "color": "black"},
   "encoding": {
    "x": {"field": "f", "type": "quantitative", "scale": {"domain": [0, 0.3], "nice": false, "zero": false}, "axis": {"title": "Frequency [Hz]", "values": [0, 0.05, 0.1, 0.15, 0.2, 0.25, 0.3], "format": "~g"}},
    "y": {"field": "v", "type": "quantitative", "scale": {"type": "log", "domain": [0.0001, 10], "nice": false}, "axis": {"title": "|Kff|", "values": [0.0001,0.0002,0.0003,0.0004,0.0005,0.0006,0.0007,0.0008,0.0009,0.001,0.002,0.003,0.004,0.005,0.006,0.007,0.008,0.009,0.01,0.02,0.03,0.04,0.05,0.06,0.07,0.08,0.09,0.1,0.2,0.3,0.4,0.5,0.6,0.7,0.8,0.9,1,2,3,4,5,6,7,8,9,10], "tickSize": {"condition": {"test": "indexof([0.0001,0.001,0.01,0.1,1,10], datum.value) >= 0", "value": -6}, "value": -3}, "labelExpr": "datum.value == 10 ? '10¹' : datum.value == 1 ? '10⁰' : datum.value == 0.1 ? '10⁻¹' : datum.value == 0.01 ? '10⁻²' : datum.value == 0.001 ? '10⁻³' : datum.value == 0.0001 ? '10⁻⁴' : ''"}},
    "strokeDash": {"field": "s", "type": "nominal", "scale": {"domain": ["7 m/s", "8 m/s", "9 m/s", "10 m/s", "11 m/s"], "range": [[1, 0], [15, 9], [1.5, 2.5], [10, 4, 2, 4], [4, 4]]},
      "legend": {"orient": "none", "legendX": 374, "legendY": -49, "title": null}},
    "strokeWidth": {"field": "s", "type": "nominal", "scale": {"type": "ordinal", "domain": ["7 m/s", "8 m/s", "9 m/s", "10 m/s", "11 m/s"], "range": [1.2, 1.2, 1.2, 1.2, 4.5]},
      "legend": {"orient": "none", "legendX": 374, "legendY": -49, "title": null}}
   }}
 ]
},
{
 "width": 448, "height": 225,
 "resolve": {"axis": {"x": "independent", "y": "independent"}},
 "encoding": {"x": {"field": "f", "type": "quantitative", "scale": {"domain": [0, 0.3], "nice": false, "zero": false}, "axis": null}},
 "layer": [
  {"data": {"name": "modes"}, "mark": {"type": "rule", "strokeDash": [15, 8], "color": "#404040", "strokeWidth": 1.3},
   "encoding": {"x": {"field": "f", "type": "quantitative", "scale": {"domain": [0, 0.3], "nice": false, "zero": false}, "axis": {"orient": "top", "labels": false, "title": null, "values": [0, 0.05, 0.1, 0.15, 0.2, 0.25, 0.3]}}}},
  {"data": {"name": "waves"}, "mark": {"type": "rule", "strokeDash": [1.5, 3], "color": "#404040", "strokeWidth": 1.3}},
  {"data": {"name": "notes"}, "mark": {"type": "text", "fontSize": 24, "color": "black", "clip": false},
   "encoding": {"y": {"field": "v", "type": "quantitative", "scale": {"type": "log", "domain": [0.0001, 10], "nice": false}, "axis": {"orient": "right", "labels": false, "title": null, "values": [0.0001,0.0002,0.0003,0.0004,0.0005,0.0006,0.0007,0.0008,0.0009,0.001,0.002,0.003,0.004,0.005,0.006,0.007,0.008,0.009,0.01,0.02,0.03,0.04,0.05,0.06,0.07,0.08,0.09,0.1,0.2,0.3,0.4,0.5,0.6,0.7,0.8,0.9,1,2,3,4,5,6,7,8,9,10], "tickSize": {"condition": {"test": "indexof([0.0001,0.001,0.01,0.1,1,10], datum.value) >= 0", "value": -6}, "value": -3}}}, "text": {"field": "t"}}},
  {"data": {"name": "tr"}, "mark": {"type": "line", "clip": true, "color": "black"},
   "encoding": {
    "x": {"field": "f", "type": "quantitative", "scale": {"domain": [0, 0.3], "nice": false, "zero": false}, "axis": {"title": "Frequency [Hz]", "values": [0, 0.05, 0.1, 0.15, 0.2, 0.25, 0.3], "format": "~g"}},
    "y": {"field": "v", "type": "quantitative", "scale": {"type": "log", "domain": [0.0001, 10], "nice": false}, "axis": {"title": "|Kff|", "values": [0.0001,0.0002,0.0003,0.0004,0.0005,0.0006,0.0007,0.0008,0.0009,0.001,0.002,0.003,0.004,0.005,0.006,0.007,0.008,0.009,0.01,0.02,0.03,0.04,0.05,0.06,0.07,0.08,0.09,0.1,0.2,0.3,0.4,0.5,0.6,0.7,0.8,0.9,1,2,3,4,5,6,7,8,9,10], "tickSize": {"condition": {"test": "indexof([0.0001,0.001,0.01,0.1,1,10], datum.value) >= 0", "value": -6}, "value": -3}, "labelExpr": "datum.value == 10 ? '10¹' : datum.value == 1 ? '10⁰' : datum.value == 0.1 ? '10⁻¹' : datum.value == 0.01 ? '10⁻²' : datum.value == 0.001 ? '10⁻³' : datum.value == 0.0001 ? '10⁻⁴' : ''"}},
    "strokeDash": {"field": "s", "type": "nominal", "scale": {"domain": ["12 m/s", "14 m/s", "16 m/s", "18 m/s", "20 m/s", "22 m/s", "24 m/s"], "range": [[1, 0], [15, 9], [1.5, 2.5], [10, 4, 2, 4], [16, 10], [3, 2.5], [10, 4, 4, 4]]},
      "legend": {"orient": "none", "legendX": 369, "legendY": -49, "title": null}},
    "strokeWidth": {"field": "s", "type": "nominal", "scale": {"type": "ordinal", "domain": ["12 m/s", "14 m/s", "16 m/s", "18 m/s", "20 m/s", "22 m/s", "24 m/s"], "range": [1.2, 1.2, 1.2, 1.2, 3.5, 3.2, 3.5]},
      "legend": {"orient": "none", "legendX": 369, "legendY": -49, "title": null}}
   }}
 ]
},
{
 "width": 448, "height": 225,
 "resolve": {"axis": {"x": "independent", "y": "independent"}},
 "encoding": {"x": {"field": "f", "type": "quantitative", "scale": {"domain": [0, 0.3], "nice": false, "zero": false}, "axis": null}},
 "layer": [
  {"data": {"name": "modes"}, "mark": {"type": "rule", "strokeDash": [15, 8], "color": "#404040", "strokeWidth": 1.3},
   "encoding": {"x": {"field": "f", "type": "quantitative", "scale": {"domain": [0, 0.3], "nice": false, "zero": false}, "axis": {"orient": "top", "labels": false, "title": null, "values": [0, 0.05, 0.1, 0.15, 0.2, 0.25, 0.3]}}}},
  {"data": {"name": "waves"}, "mark": {"type": "rule", "strokeDash": [1.5, 3], "color": "#404040", "strokeWidth": 1.3}},
  {"data": {"name": "bl"}, "mark": {"type": "point", "opacity": 0},
   "encoding": {"y": {"field": "v", "type": "quantitative", "scale": {"domain": [-200, 200], "nice": false}, "axis": {"orient": "right", "labels": false, "title": null, "values": [-200, -100, 0, 100, 200]}}}},
  {"data": {"name": "bl"}, "mark": {"type": "line", "clip": true, "color": "black"},
   "encoding": {
    "x": {"field": "f", "type": "quantitative", "scale": {"domain": [0, 0.3], "nice": false, "zero": false}, "axis": {"title": "Frequency [Hz]", "values": [0, 0.05, 0.1, 0.15, 0.2, 0.25, 0.3], "format": "~g"}},
    "y": {"field": "v", "type": "quantitative", "scale": {"domain": [-200, 200], "nice": false}, "axis": {"title": "∠Kff", "values": [-200, -100, 0, 100, 200], "labelExpr": "datum.value < 0 ? '-' + abs(datum.value) : '' + datum.value"}},
    "strokeDash": {"field": "s", "type": "nominal", "scale": {"domain": ["7 m/s", "8 m/s", "9 m/s", "10 m/s", "11 m/s"], "range": [[1, 0], [15, 9], [1.5, 2.5], [10, 4, 2, 4], [4, 4]]}, "legend": null},
    "strokeWidth": {"field": "s", "type": "nominal", "scale": {"type": "ordinal", "domain": ["7 m/s", "8 m/s", "9 m/s", "10 m/s", "11 m/s"], "range": [1.2, 1.2, 1.2, 1.2, 4.5]}, "legend": null}
   }}
 ]
},
{
 "width": 448, "height": 225,
 "resolve": {"axis": {"x": "independent", "y": "independent"}},
 "encoding": {"x": {"field": "f", "type": "quantitative", "scale": {"domain": [0, 0.3], "nice": false, "zero": false}, "axis": null}},
 "layer": [
  {"data": {"name": "modes"}, "mark": {"type": "rule", "strokeDash": [15, 8], "color": "#404040", "strokeWidth": 1.3},
   "encoding": {"x": {"field": "f", "type": "quantitative", "scale": {"domain": [0, 0.3], "nice": false, "zero": false}, "axis": {"orient": "top", "labels": false, "title": null, "values": [0, 0.05, 0.1, 0.15, 0.2, 0.25, 0.3]}}}},
  {"data": {"name": "waves"}, "mark": {"type": "rule", "strokeDash": [1.5, 3], "color": "#404040", "strokeWidth": 1.3}},
  {"data": {"name": "br"}, "mark": {"type": "point", "opacity": 0},
   "encoding": {"y": {"field": "v", "type": "quantitative", "scale": {"domain": [-200, 200], "nice": false}, "axis": {"orient": "right", "labels": false, "title": null, "values": [-200, -100, 0, 100, 200]}}}},
  {"data": {"name": "br"}, "mark": {"type": "line", "clip": true, "color": "black"},
   "encoding": {
    "x": {"field": "f", "type": "quantitative", "scale": {"domain": [0, 0.3], "nice": false, "zero": false}, "axis": {"title": "Frequency [Hz]", "values": [0, 0.05, 0.1, 0.15, 0.2, 0.25, 0.3], "format": "~g"}},
    "y": {"field": "v", "type": "quantitative", "scale": {"domain": [-200, 200], "nice": false}, "axis": {"title": "∠Kff", "values": [-200, -100, 0, 100, 200], "labelExpr": "datum.value < 0 ? '-' + abs(datum.value) : '' + datum.value"}},
    "strokeDash": {"field": "s", "type": "nominal", "scale": {"domain": ["12 m/s", "14 m/s", "16 m/s", "18 m/s", "20 m/s", "22 m/s", "24 m/s"], "range": [[1, 0], [15, 9], [1.5, 2.5], [10, 4, 2, 4], [16, 10], [3, 2.5], [10, 4, 4, 4]]}, "legend": null},
    "strokeWidth": {"field": "s", "type": "nominal", "scale": {"type": "ordinal", "domain": ["12 m/s", "14 m/s", "16 m/s", "18 m/s", "20 m/s", "22 m/s", "24 m/s"], "range": [1.2, 1.2, 1.2, 1.2, 3.5, 3.2, 3.5]}, "legend": null}
   }}
 ]
}
],
"config": {
 "font": "Liberation Serif, DejaVu Serif, serif",
 "text": {"font": "Liberation Serif, DejaVu Serif, serif"},
 "view": {"stroke": "#262626", "strokeWidth": 1},
 "axis": {"grid": false, "domain": false, "ticks": true, "tickColor": "#262626", "tickSize": -6, "labelFontSize": 22, "titleFontSize": 24, "labelFont": "Liberation Serif, DejaVu Serif, serif", "titleFont": "Liberation Serif, DejaVu Serif, serif", "titleFontWeight": "normal", "labelColor": "black", "titleColor": "black", "labelFlush": false, "labelOverlap": false},
 "axisX": {"labelPadding": 14, "titlePadding": 8},
 "axisY": {"labelPadding": 13, "titleX": -59, "titleBaseline": "alphabetic"},
 "legend": {"symbolType": "M-3,0H3", "symbolSize": 225, "symbolOffset": 15, "symbolStrokeColor": "black", "labelFontSize": 24, "labelFont": "Liberation Serif, DejaVu Serif, serif", "labelColor": "black", "fillColor": "white", "strokeColor": "#262626", "padding": 5, "rowPadding": 0, "labelOffset": 20}
}
}
